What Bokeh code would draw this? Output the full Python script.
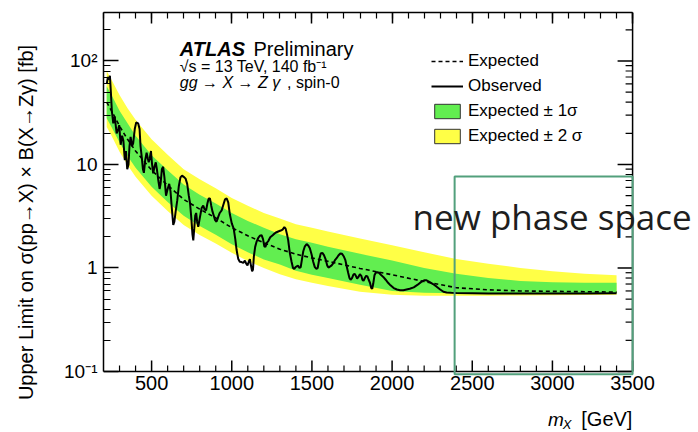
import math
from bokeh.plotting import figure
from bokeh.models import (Range1d, LinearAxis, FixedTicker, SingleIntervalTicker,
                          Label, Legend, LegendItem, BoxAnnotation, ColumnDataSource,
                          CustomJSTickFormatter)
from bokeh.core.properties import value
from bokeh.embed import file_html
from bokeh.resources import INLINE

# ---------------- data ----------------
band_mass = [220, 250, 300, 350, 400, 500, 600, 700, 800, 900, 1000, 1100, 1200, 1300,
             1400, 1500, 1600, 1800, 2000, 2200, 2400, 2600, 2800, 3000, 3200, 3400]
exp_vals = [40, 33, 23.5, 17.5, 13.5, 8.8, 6.3, 4.6, 3.7, 3.05, 2.45, 2.05, 1.75, 1.52,
            1.36, 1.25, 1.16, 0.99, 0.86, 0.74, 0.645, 0.615, 0.60, 0.595, 0.59, 0.585]
p2_vals = [80, 66, 47, 35, 27, 17.5, 12.4, 9.0, 7.2, 5.9, 4.75, 4.0, 3.4, 3.0,
           2.65, 2.45, 2.25, 1.93, 1.66, 1.42, 1.22, 1.1, 1.0, 0.93, 0.88, 0.85]
p1_vals = [57, 47, 33, 25, 19, 12.3, 8.8, 6.4, 5.1, 4.2, 3.4, 2.85, 2.45, 2.12,
           1.9, 1.75, 1.6, 1.37, 1.18, 1.0, 0.88, 0.8, 0.75, 0.73, 0.72, 0.72]
m1_vals = [28, 23, 16.3, 12.1, 9.3, 6.1, 4.35, 3.2, 2.55, 2.1, 1.7, 1.42, 1.21, 1.08,
           0.94, 0.86, 0.8, 0.69, 0.6, 0.575, 0.57, 0.568, 0.567, 0.567, 0.567, 0.568]
m2_vals = [23, 19, 13.3, 9.9, 7.6, 5.0, 3.55, 2.6, 2.08, 1.72, 1.4, 1.17, 1.0, 0.87,
           0.78, 0.72, 0.67, 0.59, 0.55, 0.54, 0.538, 0.54, 0.542, 0.545, 0.548, 0.55]

obs_mass = [220, 228, 235, 240, 246, 252, 261, 270, 282, 292, 298, 307, 316, 324, 333, 340,
            348, 356, 362, 369, 378, 385, 395, 404, 416, 425, 431, 438, 446, 452, 460, 469,
            476, 482, 489, 496, 503, 510, 518, 526, 533, 542, 550, 556, 564, 572, 580, 590,
            600, 610, 618, 626, 635, 642, 650, 660, 670, 680, 690, 700, 712, 722, 732, 740,
            748, 755, 760, 766, 772, 778, 784, 791, 800, 812, 822, 830, 840, 848, 856, 864,
            872, 880, 888, 896, 905, 915, 925, 937, 948, 958, 968, 978, 988, 1000, 1012, 1022,
            1030, 1040, 1050, 1061, 1072, 1082, 1090, 1098, 1106, 1113, 1120, 1127, 1132, 1138,
            1146, 1155, 1165, 1176, 1186, 1195, 1203, 1210, 1218, 1228, 1240, 1259, 1275, 1290,
            1305, 1317, 1328, 1336, 1345, 1352, 1362, 1373, 1382, 1390, 1398, 1406, 1414, 1422,
            1430, 1438, 1446, 1456, 1467, 1477, 1487, 1498, 1508, 1518, 1528, 1536, 1545, 1555,
            1565, 1575, 1585, 1595, 1603, 1612, 1623, 1635, 1645, 1655, 1665, 1677, 1688, 1698,
            1708, 1716, 1726, 1734, 1741, 1750, 1758, 1766, 1774, 1782, 1790, 1799, 1808, 1815,
            1822, 1830, 1838, 1846, 1854, 1862, 1870, 1876, 1882, 1890, 1898, 1908, 1918, 1930,
            1945, 1960, 1975, 1990, 2010, 2030, 2050, 2070, 2090, 2110, 2135, 2160, 2180, 2200,
            2215, 2235, 2255, 2278, 2300, 2320, 2340, 2370, 2400, 2500, 2600, 2800, 3000, 3200,
            3400]
obs_vals = [60, 70, 66, 72, 50, 33, 25, 29, 20, 22, 24, 15.5, 19, 17, 11, 13.5,
            9, 10, 15, 18.5, 15, 16, 22, 25.5, 25, 22, 15, 12, 9, 8.3, 11, 13,
            11.5, 10.5, 11.5, 13.5, 10, 8.2, 9.5, 10.5, 9, 7, 5.8, 6.5, 9, 9.5, 7.5, 5.0,
            5.8, 6.5, 5.5, 3.8, 2.6, 2.8, 3.5, 4.5, 6.2, 7.5, 7.8, 7.6, 7.3, 6.5, 5.0, 4.2,
            3.0, 2.1, 1.85, 2.4, 3.2, 3.4, 2.8, 2.5, 3.0, 3.8, 4.0, 3.7, 3.6, 4.2, 4.7, 4.7,
            4.0, 3.5, 3.2, 2.9, 2.8, 3.1, 3.4, 3.6, 4.1, 4.6, 4.7, 4.3, 3.3, 2.7, 2.4, 1.9,
            1.5, 1.23, 1.15, 1.14, 1.12, 1.18, 1.10, 1.06, 1.15, 1.22, 1.05, 0.93, 0.96, 1.3,
            1.6, 1.8, 1.95, 2.05, 2.08, 1.9, 1.62, 1.6, 1.75, 1.82, 1.98, 2.1, 2.2, 2.25,
            2.3, 2.35, 2.48, 2.4, 2.1, 1.85, 1.4, 1.15, 1.0, 0.98, 1.02, 1.04, 1.05, 1.0,
            1.02, 1.22, 1.45, 1.62, 1.7, 1.65, 1.55, 1.35, 1.15, 1.02, 0.98, 1.0, 1.2, 1.38,
            1.4, 1.33, 1.22, 1.06, 1.01, 1.03, 1.06, 1.12, 1.2, 1.25, 1.32, 1.38, 1.37, 1.3,
            1.2, 1.05, 0.9, 0.8, 0.77, 0.8, 0.86, 0.88, 0.84, 0.79, 0.82, 0.87, 0.84, 0.77,
            0.75, 0.8, 0.84, 0.83, 0.77, 0.72, 0.64, 0.63, 0.7, 0.85, 0.9, 0.91, 0.9, 0.86,
            0.82, 0.77, 0.72, 0.68, 0.64, 0.62, 0.61, 0.61, 0.62, 0.63, 0.65, 0.69, 0.73, 0.76,
            0.76, 0.73, 0.70, 0.66, 0.62, 0.59, 0.58, 0.575, 0.572, 0.57, 0.568, 0.567, 0.567, 0.568,
            0.57]

x_tick_vals = [500, 1000, 1500, 2000, 2500, 3000, 3500]
x_tick_labels = ["500", "1000", "1500", "2000", "2500", "3000", "3500"]
y_ticks = [0.1, 1, 10, 100]
y_tick_labels = ["10\u207b\u00b9", "1", "10", "10\u00b2"]
legend_labels = ["Expected", "Observed", "Expected \u00b1 1\u03c3", "Expected \u00b1 2 \u03c3"]

# ---------------- geometry / styling ----------------
FONT = "Liberation Sans"
GREEN = "#62ee50"
YELLOW = "#ffff46"
BOXC = "#52a07c"

X_MIN, X_MAX = 200, 3500          # drawn axis extent
Y_MIN, Y_MAX = 0.1, 294           # drawn axis extent
PX_PER_GEV = 0.16033
PX_PER_DEC = 103.5
LEFT, TOP, W, H = 103, 12, 698, 432
AXIS_Y_PX = 371                   # screen row of the x axis
# frame reaches the right / bottom edges so texts there are not clipped
x_end = X_MIN + (W - LEFT) / PX_PER_GEV
y_start = Y_MIN * 10 ** (-(H - AXIS_Y_PX) / PX_PER_DEC)

p = figure(width=W, height=H, y_axis_type="log", x_axis_location=None,
           x_range=Range1d(X_MIN, x_end), y_range=Range1d(y_start, Y_MAX),
           output_backend="svg", toolbar_location=None,
           min_border_left=LEFT, min_border_right=0, min_border_top=TOP, min_border_bottom=0)
p.grid.visible = False
p.outline_line_color = None
p.background_fill_color = "white"
p.border_fill_color = "white"

src = ColumnDataSource(dict(m=band_mass, exp=exp_vals, p1=p1_vals, m1=m1_vals,
                            p2=p2_vals, m2=m2_vals))
p.varea(x="m", y1="m2", y2="p2", source=src, fill_color=YELLOW)
p.varea(x="m", y1="m1", y2="p1", source=src, fill_color=GREEN)
exp_r = p.line("m", "exp", source=src, line_color="black", line_width=1.6, line_dash="4 3")
obs_r = p.line(obs_mass, obs_vals, line_color="black", line_width=2)

# hidden renderers that only provide outlined swatches for the legend
g_sw = p.quad(left="m", right="m", top="p1", bottom="m1", source=src,
              fill_color=GREEN, line_color="#333333", line_width=1, visible=False)
y_sw = p.quad(left="m", right="m", top="p2", bottom="m2", source=src,
              fill_color=YELLOW, line_color="#333333", line_width=1, visible=False)

y_minor = [k * 10.0 ** e for e in range(-1, 3) for k in range(2, 10) if k * 10.0 ** e <= Y_MAX]
x_minor = [v for v in range(X_MIN + 100, X_MAX, 100) if v % 500]

def style_axis(ax, tin, tmin):
    ax.major_tick_in = tin
    ax.major_tick_out = 0
    ax.minor_tick_in = tmin
    ax.minor_tick_out = 0
    ax.axis_line_width = 1.5
    ax.major_tick_line_width = 1.5
    ax.minor_tick_line_width = 1.2
    ax.axis_line_color = "black"
    ax.major_tick_line_color = "black"
    ax.minor_tick_line_color = "black"

# left axis (real axis)
yax = p.left[0]
yax.bounds = (Y_MIN, Y_MAX)
yax.ticker = FixedTicker(ticks=y_ticks, minor_ticks=y_minor)
yax.major_label_overrides = {t: l for t, l in zip([0.1, 1, 10, 100], y_tick_labels)}
style_axis(yax, 15, 7)
yax.major_label_text_font = FONT
yax.major_label_text_font_size = "19px"
yax.major_label_text_color = "black"
yax.major_label_standoff = 6
yax.axis_label = "Upper Limit on \u03c3(pp\u2192X) \u00d7 B(X\u2192Z\u03b3) [fb]"
yax.axis_label_text_font = FONT
yax.axis_label_text_font_size = "20px"
yax.axis_label_text_font_style = "normal"
yax.axis_label_text_color = "black"
yax.axis_label_standoff = 24

# top axis (ticks only)
top = LinearAxis(ticker=SingleIntervalTicker(interval=500, num_minor_ticks=5),
                 formatter=CustomJSTickFormatter(code="return ''"), bounds=(X_MIN, X_MAX),
                 major_label_text_font_size="2px", major_label_standoff=0)
style_axis(top, 11, 6)
p.add_layout(top, "above")

# bottom axis and right edge drawn inside the extended frame
p.segment(x0=[X_MIN, X_MAX], y0=[Y_MIN, Y_MIN], x1=[X_MAX, X_MAX], y1=[Y_MIN, Y_MAX],
          line_color="black", line_width=1.5)
p.ray(x=x_tick_vals, y=[Y_MIN] * len(x_tick_vals), length=11, length_units="screen",
      angle=math.pi / 2, line_color="black", line_width=1.5)
p.ray(x=x_minor, y=[Y_MIN] * len(x_minor), length=6, length_units="screen",
      angle=math.pi / 2, line_color="black", line_width=1.2)
p.ray(x=[X_MAX] * len(y_ticks), y=y_ticks, length=15, length_units="screen",
      angle=math.pi, line_color="black", line_width=1.5)
p.ray(x=[X_MAX] * len(y_minor), y=y_minor, length=7, length_units="screen",
      angle=math.pi, line_color="black", line_width=1.2)
p.text(x=x_tick_vals, y=[Y_MIN] * len(x_tick_vals), text=x_tick_labels, y_offset=5,
       text_align="center", text_baseline="top", text_font=value(FONT),
       text_font_size="20px", text_color="black")

# ---------------- texts ----------------
def lab(x, y, text, size, style="normal", font=FONT, color="black"):
    p.add_layout(Label(x=x, y=y, text=text, text_font=font, text_font_size=size,
                       text_font_style=style, text_color=color))

lab(676, 102, "ATLAS", "20px", "bold italic")
lab(1135, 102, "Preliminary", "20px")
lab(676, 72.5, "\u221as = 13 TeV, 140 fb\u207b\u00b9", "16px")
lab(676, 51, "gg \u2192 X \u2192 Z \u03b3", "16px", "italic")
lab(1345, 51, ", spin-0", "16px")

# x axis title
lab(2972, 0.0275, "m", "19px", "italic")
lab(3065, 0.0262, "X", "13px", "italic")
lab(3180, 0.0275, "[GeV]", "20px")

# legend
legend = Legend(items=[LegendItem(label=legend_labels[0], renderers=[exp_r]),
                       LegendItem(label=legend_labels[1], renderers=[obs_r]),
                       LegendItem(label=legend_labels[2], renderers=[g_sw]),
                       LegendItem(label=legend_labels[3], renderers=[y_sw])],
                location=(328, 286), margin=0, padding=0, spacing=5,
                glyph_width=32, glyph_height=18, label_height=20, label_standoff=5,
                label_text_font=FONT, label_text_font_size="17px", label_text_color="black",
                inactive_fill_alpha=0,
                border_line_color=None, background_fill_alpha=0)
p.add_layout(legend)

# highlight box + text
p.add_layout(BoxAnnotation(left=2390, right=X_MAX, top=7.66, bottom=0.094,
                           fill_color=None, fill_alpha=0, line_color=BOXC,
                           line_alpha=1, line_width=2))
lab(2128, 1.88, "new phase space", "35px", font="Open Sans", color="#1e1e1e")

open("out.html", "w").write(file_html(p, INLINE))
